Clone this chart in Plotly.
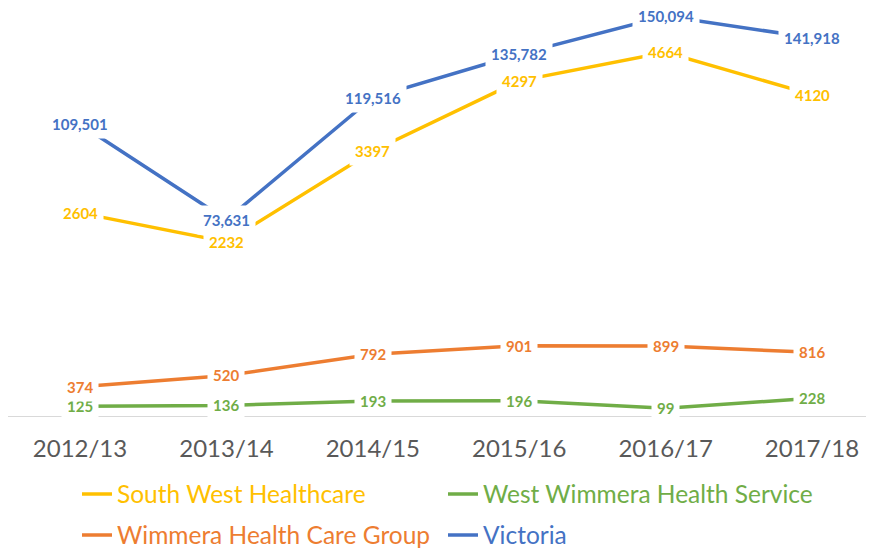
import plotly.graph_objects as go

categories = ["2012/13", "2013/14", "2014/15", "2015/16", "2016/17", "2017/18"]
south_west = [2604, 2232, 3397, 4297, 4664, 4120]
wimmera_hcg = [374, 520, 792, 901, 899, 816]
west_wimmera = [125, 136, 193, 196, 99, 228]
victoria = [109501, 73631, 119516, 135782, 150094, 141918]

C_SW = "#FFC000"
C_WHCG = "#ED7D31"
C_WW = "#70AD47"
C_VIC = "#4472C4"

# name, values, colour, y-axis, legend id, label format
series = [
    ("South West Healthcare", south_west, C_SW, "y", "legend", "{:d}"),
    ("West Wimmera Health Service", west_wimmera, C_WW, "y", "legend2", "{:d}"),
    ("Wimmera Health Care Group", wimmera_hcg, C_WHCG, "y", "legend3", "{:d}"),
    ("Victoria", victoria, C_VIC, "y2", "legend4", "{:,}"),
]

fig = go.Figure()
for name, vals, col, yax, leg, fmt in series:
    fig.add_trace(go.Scatter(
        x=categories, y=vals, mode="lines", yaxis=yax, legend=leg,
        name=f"<span style='color:{col}'>{name}</span>",
        line=dict(color=col, width=3.5),
    ))

for name, vals, col, yax, leg, fmt in series:
    for c, v in zip(categories, vals):
        fig.add_annotation(
            x=c, y=v, xref="x", yref=yax, text=fmt.format(v), showarrow=False,
            font=dict(family="Lato", size=15, color=col, weight="bold"),
            bgcolor="white", borderpad=5,
        )

# the page body adds an 8px offset, so figure coordinates are shifted by -8
W, H = 874, 548
leg_common = dict(orientation="h", xref="container", yref="container",
                  xanchor="left", yanchor="middle", itemwidth=30,
                  font=dict(family="Lato", size=24.5), bgcolor="rgba(0,0,0,0)")
row1_y, row2_y = 1 - 486 / H, 1 - 527 / H
col1_x, col2_x = 69 / W, 435 / W

fig.update_layout(
    width=W, height=H,
    margin=dict(l=0, r=0, t=2, b=139.5, autoexpand=False),
    paper_bgcolor="white", plot_bgcolor="white",
    showlegend=True,
    xaxis=dict(type="category", range=[-0.492, 5.478], showgrid=False,
               showline=True, linecolor="#D9D9D9", linewidth=1,
               ticks="", ticklabelstandoff=11,
               tickfont=dict(family="Lato", size=24, color="#595959")),
    yaxis=dict(range=[0, 5205], visible=False, showgrid=False, zeroline=False),
    yaxis2=dict(range=[0, 152360], visible=False, overlaying="y", showgrid=False, zeroline=False),
    legend=dict(x=col1_x, y=row1_y, **leg_common),
    legend2=dict(x=col2_x, y=row1_y, **leg_common),
    legend3=dict(x=col1_x, y=row2_y, **leg_common),
    legend4=dict(x=col2_x, y=row2_y, **leg_common),
)

fig.write_html("out.html")
